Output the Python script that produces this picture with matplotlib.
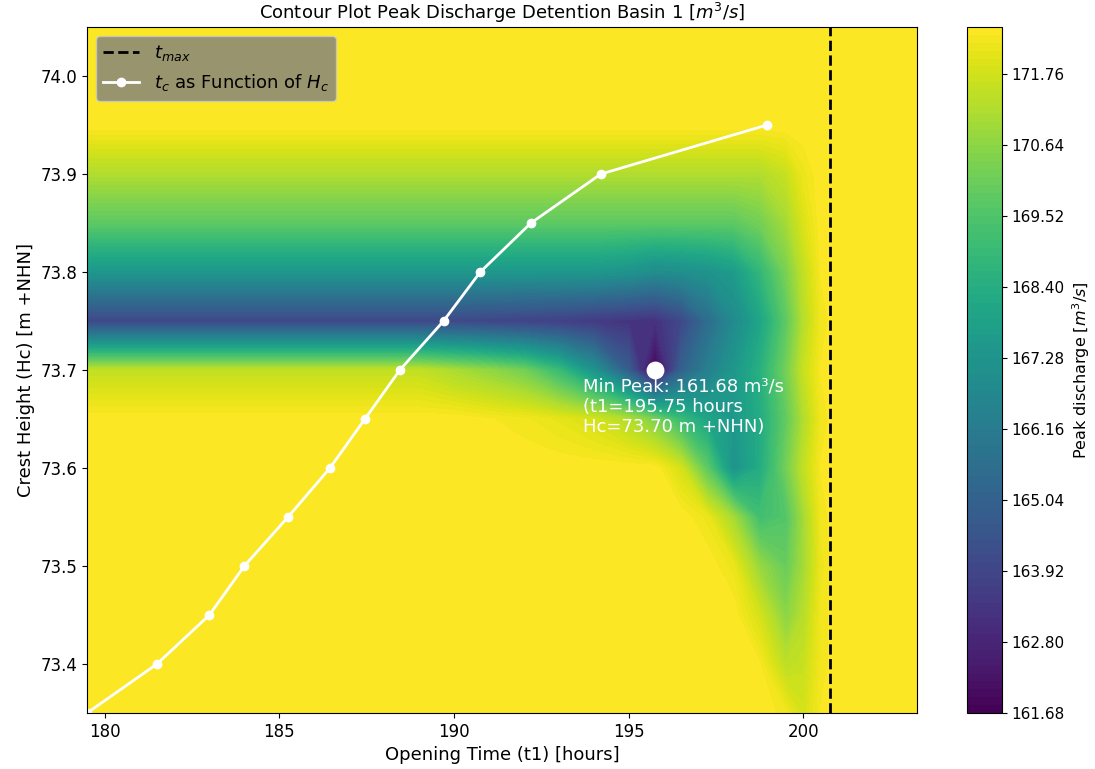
import numpy as np
import matplotlib
matplotlib.use("Agg")
import matplotlib.pyplot as plt

plt.rcParams['font.size'] = 12

# opening time grid [h] and crest height grid [m +NHN]
t1 = [179.5, 189.0, 190.0, 191.0, 192.0, 193.0, 194.0, 195.0, 195.75,
      196.5, 197.25, 198.0, 198.75, 199.5, 200.0, 200.5, 201.0, 203.25]
hc = [73.35, 73.40, 73.45, 73.50, 73.55, 73.60, 73.65, 73.70,
      73.75, 73.80, 73.85, 73.90, 73.95, 74.00, 74.05]

# peak discharge [m3/s], one row per crest height (bottom to top)
peak = [
    [172.51, 172.51, 172.51, 172.51, 172.51, 172.51, 172.51, 172.51, 172.51, 172.51, 172.51, 172.51, 172.51, 172.3, 171.8, 172.4, 172.51, 172.51],
    [172.51, 172.51, 172.51, 172.51, 172.51, 172.51, 172.51, 172.51, 172.51, 172.51, 172.51, 172.51, 172.4, 171.4, 171.6, 172.3, 172.51, 172.51],
    [172.51, 172.51, 172.51, 172.51, 172.51, 172.51, 172.51, 172.51, 172.51, 172.51, 172.51, 172.5, 171.8, 170.6, 171.3, 172.3, 172.51, 172.51],
    [172.51, 172.51, 172.51, 172.51, 172.51, 172.51, 172.51, 172.51, 172.51, 172.51, 172.51, 172.2, 170.8, 170.0, 171.0, 172.2, 172.51, 172.51],
    [172.51, 172.51, 172.51, 172.51, 172.51, 172.51, 172.51, 172.51, 172.51, 172.51, 172.2, 171.0, 169.2, 169.6, 171.0, 172.3, 172.51, 172.51],
    [172.51, 172.51, 172.51, 172.51, 172.51, 172.51, 172.51, 172.51, 172.51, 171.8, 169.8, 167.2, 168.3, 170.2, 171.5, 172.4, 172.51, 172.51],
    [172.51, 172.51, 172.5, 172.4, 172.3, 172.1, 171.8, 171.2, 170.3, 169.0, 168.0, 167.5, 168.3, 169.9, 171.2, 172.3, 172.51, 172.51],
    [171.5, 171.5, 171.1, 170.7, 170.2, 169.0, 167.2, 164.8, 161.68, 165.0, 166.3, 167.4, 168.5, 170.2, 171.6, 172.4, 172.51, 172.51],
    [164.0, 164.0, 164.0, 163.9, 163.8, 163.7, 163.5, 163.3, 163.2, 164.0, 165.5, 166.8, 168.0, 169.8, 171.3, 172.3, 172.51, 172.51],
    [167.4, 167.4, 167.4, 167.4, 167.4, 167.4, 167.4, 167.2, 166.9, 167.0, 167.2, 167.6, 168.8, 170.3, 171.5, 172.4, 172.51, 172.51],
    [169.8, 169.8, 169.8, 169.8, 169.8, 169.8, 169.8, 169.8, 169.8, 169.8, 169.8, 169.8, 170.2, 171.0, 171.9, 172.5, 172.51, 172.51],
    [171.2, 171.2, 171.2, 171.2, 171.2, 171.2, 171.2, 171.2, 171.2, 171.2, 171.2, 171.2, 171.2, 171.6, 172.2, 172.51, 172.51, 172.51],
    [172.51, 172.51, 172.51, 172.51, 172.51, 172.51, 172.51, 172.51, 172.51, 172.51, 172.51, 172.51, 172.51, 172.51, 172.51, 172.51, 172.51, 172.51],
    [172.51, 172.51, 172.51, 172.51, 172.51, 172.51, 172.51, 172.51, 172.51, 172.51, 172.51, 172.51, 172.51, 172.51, 172.51, 172.51, 172.51, 172.51],
    [172.51, 172.51, 172.51, 172.51, 172.51, 172.51, 172.51, 172.51, 172.51, 172.51, 172.51, 172.51, 172.51, 172.51, 172.51, 172.51, 172.51, 172.51],
]

# critical opening time as function of crest height
tc_t = [179.5, 181.5, 183.0, 184.0, 185.25, 186.45, 187.45, 188.45, 189.7, 190.75, 192.2, 194.2, 198.95]
tc_h = [73.35, 73.40, 73.45, 73.50, 73.55, 73.60, 73.65, 73.70, 73.75, 73.80, 73.85, 73.90, 73.95]

t_max = 200.75
min_t = 195.75
min_h = 73.70
min_q = 161.68

Z = np.array(peak)
levels = np.linspace(Z.min(), Z.max(), 88)

fig = plt.figure(figsize=(10.95, 7.69), dpi=100)
ax = fig.add_axes([0.0795, 0.0728, 0.758, 0.892])
cax = fig.add_axes([0.883, 0.0728, 0.032, 0.892])

cf = ax.contourf(t1, hc, Z, levels=levels, cmap='viridis')
cb = fig.colorbar(cf, cax=cax, ticks=levels[::9], format='%.2f')
cb.set_label('Peak discharge [$m^3/s$]', fontsize=11.5)
cb.ax.tick_params(labelsize=11)

ax.axvline(t_max, color='black', linestyle='--', linewidth=2, label='$t_{max}$')
ax.plot(tc_t, tc_h, color='white', marker='o', linewidth=2, markersize=6,
        label='$t_c$ as Function of $H_c$')
ax.scatter([min_t], [min_h], color='white', s=140, zorder=5)
ax.text(min_t - 2.05, min_h - 0.008,
        f'Min Peak: {min_q:.2f} m³/s\n(t1={min_t:.2f} hours\nHc={min_h:.2f} m +NHN)',
        color='white', fontsize=13, ha='left', va='top', linespacing=1.15)

ax.set_xlim(179.5, 203.25)
ax.set_ylim(73.35, 74.05)
ax.set_xlabel('Opening Time (t1) [hours]', fontsize=13)
ax.set_ylabel('Crest Height (Hc) [m +NHN]', fontsize=13)
ax.set_title('Contour Plot Peak Discharge Detention Basin 1 [$m^3/s$]', fontsize=13)
ax.legend(loc='upper left', facecolor='gray', fontsize=13)

fig.savefig('out.png', dpi=100)
